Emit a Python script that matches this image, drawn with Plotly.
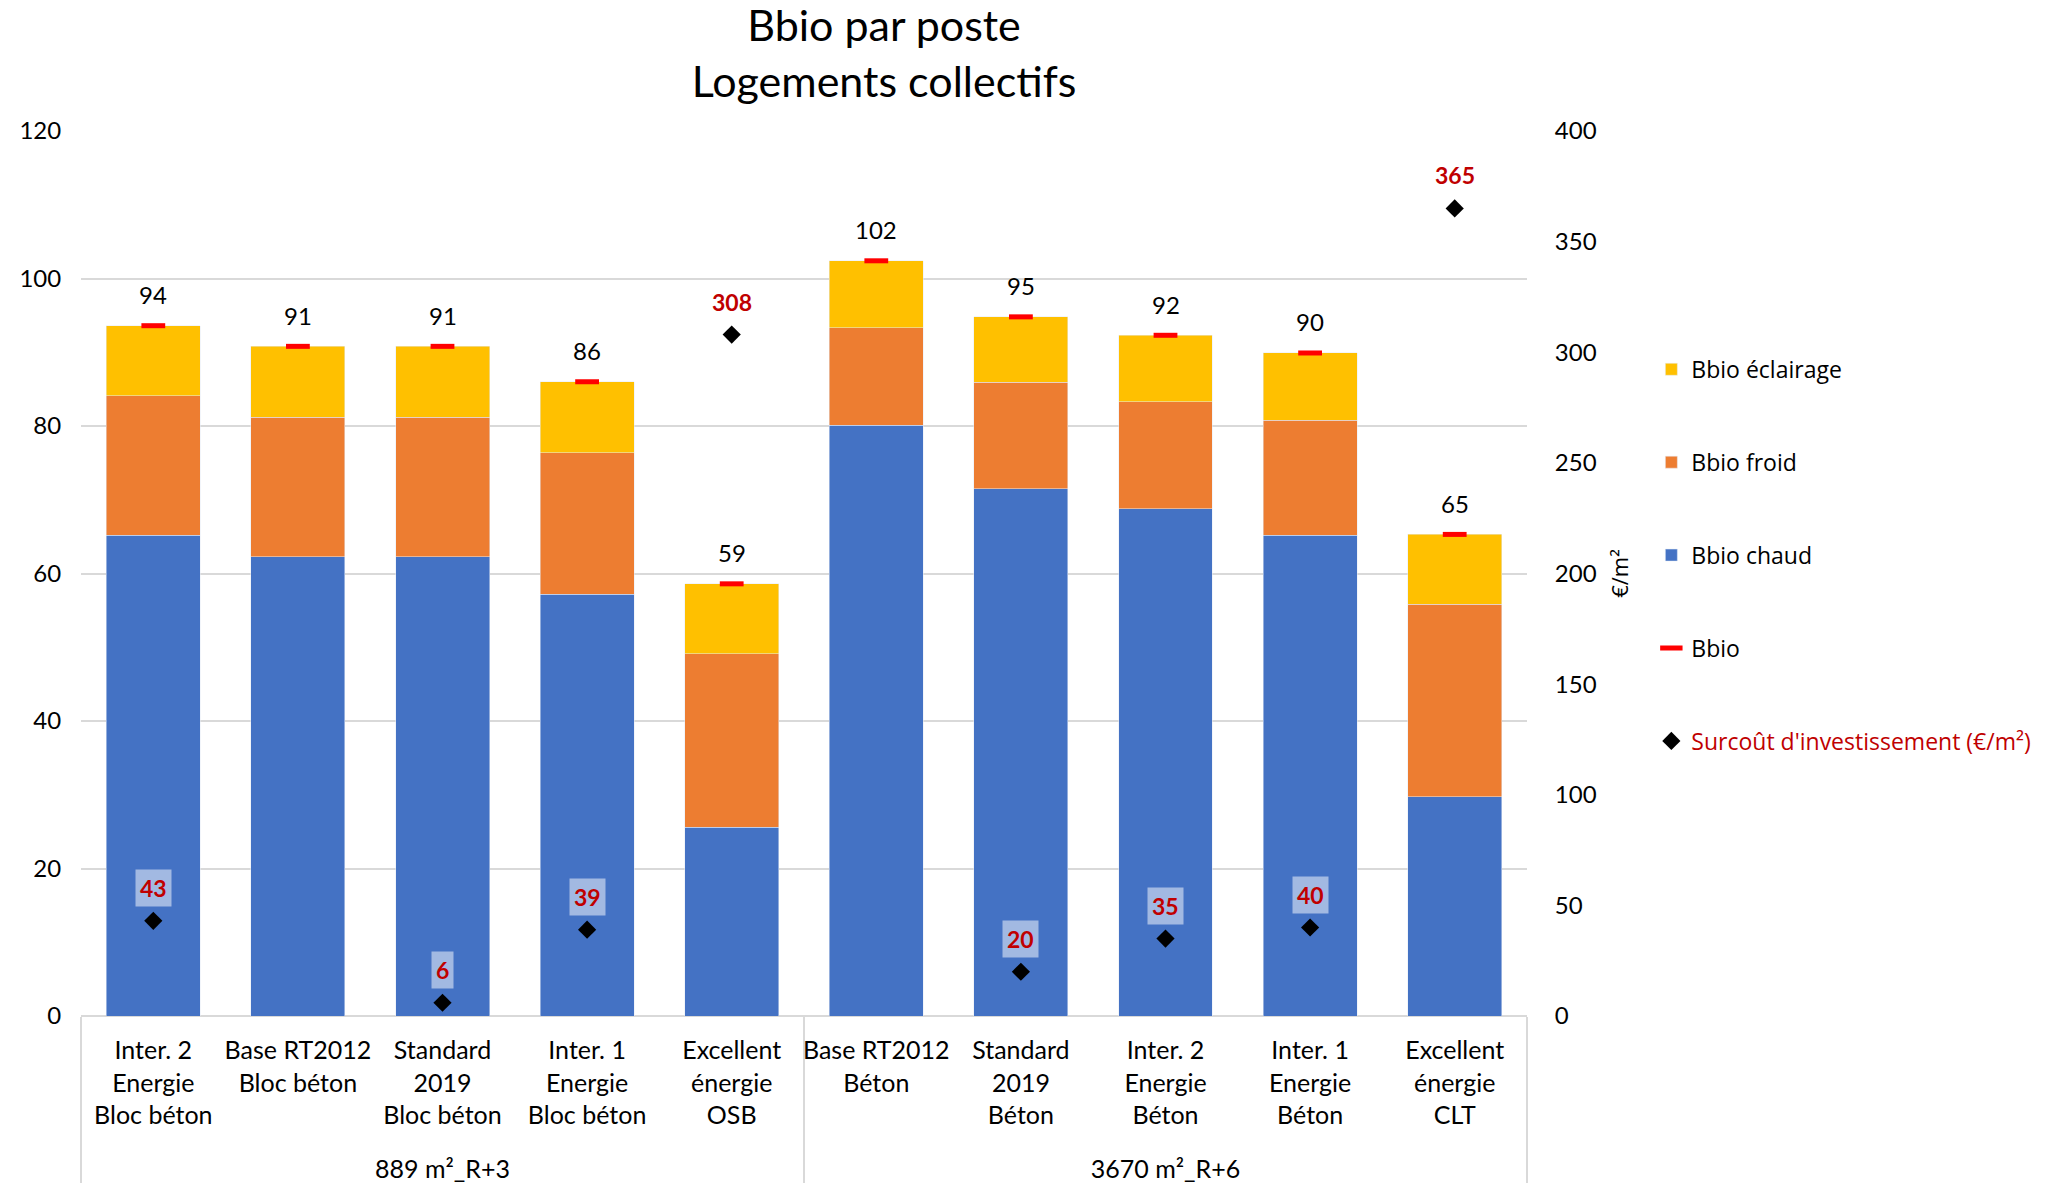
import plotly.graph_objects as go

groups = ["889 m²_R+3"] * 5 + ["3670 m²_R+6"] * 5
categories = [
    "Inter. 2<br>Energie<br>Bloc béton",
    "Base RT2012<br>Bloc béton",
    "Standard<br>2019<br>Bloc béton",
    "Inter. 1<br>Energie<br>Bloc béton",
    "Excellent<br>énergie<br>OSB",
    "Base RT2012<br>Béton",
    "Standard<br>2019<br>Béton",
    "Inter. 2<br>Energie<br>Béton",
    "Inter. 1<br>Energie<br>Béton",
    "Excellent<br>énergie<br>CLT",
]
bbio_chaud = [65.2, 62.3, 62.3, 57.2, 25.6, 80.1, 71.5, 68.8, 65.2, 29.7]
bbio_froid = [18.9, 18.9, 18.9, 19.2, 23.5, 13.2, 14.4, 14.5, 15.6, 26.1]
bbio_eclairage = [9.5, 9.6, 9.6, 9.6, 9.5, 9.1, 8.9, 9.0, 9.1, 9.5]
bbio = [93.6, 90.8, 90.8, 86.0, 58.6, 102.4, 94.8, 92.3, 89.9, 65.3]
surcout = [43, None, 6, 39, 308, None, 20, 35, 40, 365]

# trailing blank line gives the group labels their spacing under the category labels
SPACER = '<br><span style="font-size:50px">\u00a0</span>'
x = [groups, [c + SPACER for c in categories]]
idx = list(range(len(categories)))

BLUE = "#4472C4"
ORANGE = "#ED7D31"
YELLOW = "#FFC000"
RED = "#FF0000"
DRED = "#C00000"
GRID = "#D9D9D9"
FONT = "Lato"
LFONT = "Open Sans"

fig = go.Figure()
fig.add_trace(go.Bar(x=x, y=bbio_chaud, name="Bbio chaud", marker_color=BLUE,
                     legendgroup="c", legendrank=3))
fig.add_trace(go.Bar(x=x, y=bbio_froid, name="Bbio froid", marker_color=ORANGE,
                     legendgroup="f", legendrank=2))
fig.add_trace(go.Bar(x=x, y=bbio_eclairage, name="Bbio éclairage", marker_color=YELLOW,
                     legendgroup="e", legendrank=1))
fig.add_trace(go.Scatter(x=x, y=bbio, name="Bbio", mode="markers",
                         marker=dict(symbol="line-ew", size=17, color=RED,
                                     line=dict(color=RED, width=5)),
                         legendgroup="b", legendrank=4))
fig.add_trace(go.Scatter(x=x, y=surcout, name=f'<span style="color:{DRED}">Surcoût d\'investissement (€/m²)</span>',
                         mode="markers", yaxis="y2",
                         marker=dict(symbol="diamond", size=14, color="black"),
                         legendgroup="s", legendrank=5))
# invisible helper trace: linear overlay axis used to place the value labels
fig.add_trace(go.Scatter(x=idx, y=bbio, xaxis="x2", mode="markers",
                         marker=dict(opacity=0), showlegend=False, hoverinfo="skip"))

annotations = []
for i, v in zip(idx, bbio):
    annotations.append(dict(x=i, y=v, xref="x2", yref="y", text=f"{v:.0f}",
                            showarrow=False, yshift=31,
                            font=dict(family=FONT, size=24, color="black")))
for i, v in zip(idx, surcout):
    if v is None:
        continue
    annotations.append(dict(x=i, y=v, xref="x2", yref="y2", text=f"<b>{v}</b>",
                            showarrow=False, yshift=33,
                            bgcolor="rgba(255,255,255,0.5)", borderpad=4,
                            font=dict(family=FONT, size=23, color=DRED)))

fig.update_layout(
    width=2056, height=1183,
    paper_bgcolor="white", plot_bgcolor="white",
    margin=dict(l=81, r=529, t=131, b=167, autoexpand=False),
    barmode="stack", bargap=0.35,
    title=dict(text="Bbio par poste<br>Logements collectifs",
               x=0.43, xanchor="center", y=0.965, yanchor="top",
               font=dict(family=FONT, size=43, color="black")),
    font=dict(family=FONT, size=24, color="black"),
    xaxis=dict(type="multicategory", range=[-0.5, 9.5], showgrid=False, showline=False,
               automargin=False, showdividers=True, dividercolor=GRID, dividerwidth=2,
               tickangle=0, tickfont=dict(family=FONT, size=25, color="black"),
               ticklabelstandoff=17),
    xaxis2=dict(overlaying="x", range=[-0.5, 9.5], visible=False),
    yaxis=dict(range=[0, 120], dtick=20, showgrid=True, gridcolor=GRID, gridwidth=2,
               zeroline=True, zerolinecolor=GRID, zerolinewidth=2, automargin=False,
               tickfont=dict(family=FONT, size=24, color="black"),
               ticks="outside", ticklen=14, tickcolor="rgba(0,0,0,0)"),
    yaxis2=dict(range=[0, 400], dtick=50, overlaying="y", side="right", showgrid=False,
                zeroline=False, showline=False, automargin=False,
                tickfont=dict(family=FONT, size=24, color="black"),
                ticks="outside", ticklen=22, tickcolor="rgba(0,0,0,0)",
                title=dict(text="€/m²", font=dict(family=LFONT, size=22, color="black"),
                           standoff=16)),
    legend=dict(x=1.086, xanchor="left", y=0.755, yanchor="top",
                font=dict(family=LFONT, size=23, color="black"),
                tracegroupgap=60, itemwidth=30, bgcolor="rgba(0,0,0,0)",
                traceorder="grouped"),
    annotations=annotations,
    showlegend=True,
)

fig.write_html("out.html", config={"displayModeBar": False},
               post_script="document.body.style.margin='0';")
